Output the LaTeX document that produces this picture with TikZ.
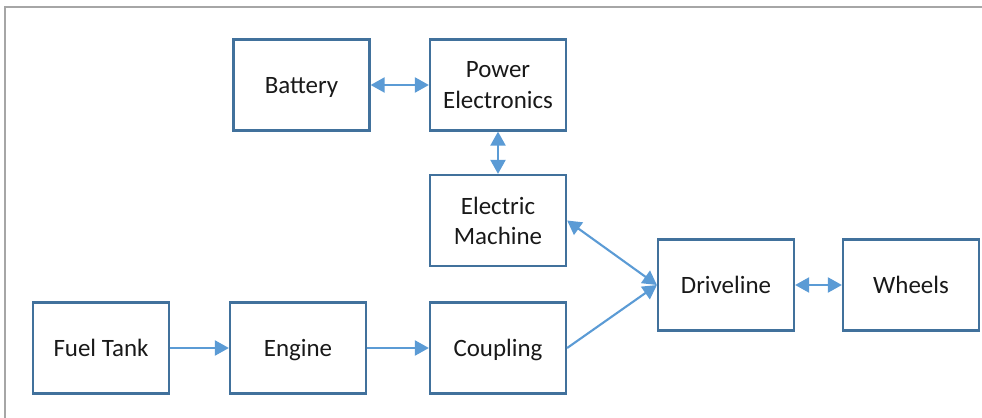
\documentclass[tikz,border=0pt]{standalone}
\usepackage{fontspec}
\setmainfont{Carlito}
\usetikzlibrary{arrows.meta,positioning}
\definecolor{boxline}{HTML}{41719C}
\definecolor{arrline}{HTML}{5B9BD5}
\definecolor{frameline}{HTML}{A6A6A6}
\begin{document}
\begin{tikzpicture}[x=0.02cm,y=-0.02cm,
  blk/.style={draw=boxline,line width=1.3pt,fill=white,minimum width=2.72cm,minimum height=1.82cm,align=center,text=black!90,font=\fontsize{14.2pt}{17.2pt}\selectfont,text depth=0pt,inner sep=2pt},
  flow/.style={draw=arrline,line width=1.2pt,-{Triangle[length=8pt,width=8.6pt]}},
  flow2/.style={draw=arrline,line width=1.2pt,{Triangle[length=8pt,width=8.6pt]}-{Triangle[length=8pt,width=8.6pt]}}]
\useasboundingbox (0,0) rectangle (982,418);
\draw[frameline,line width=1.1pt] (5,418)--(5,7)--(982,7);
\node[blk] (bat) at (301.5,85) {Battery};
\node[blk] (pe) at (498,85) {Power\\Electronics};
\node[blk] (em) at (498,220.5) {Electric\\Machine};
\node[blk] (dl) at (726,285) {Driveline};
\node[blk] (wh) at (911,285) {Wheels};
\node[blk] (ft) at (101,348) {Fuel Tank};
\node[blk] (eng) at (298,348) {Engine};
\node[blk] (cpl) at (498,348) {Coupling};
\draw[flow2] (bat.east)--(pe.west);
\draw[flow2] (pe.south)--(em.north);
\draw[flow2] (em.east)--(dl.west);
\draw[flow2] (dl.east)--(wh.west);
\draw[flow] (ft.east)--(eng.west);
\draw[flow] (eng.east)--(cpl.west);
\draw[flow] (cpl.east)--(dl.west);
\end{tikzpicture}
\end{document}
